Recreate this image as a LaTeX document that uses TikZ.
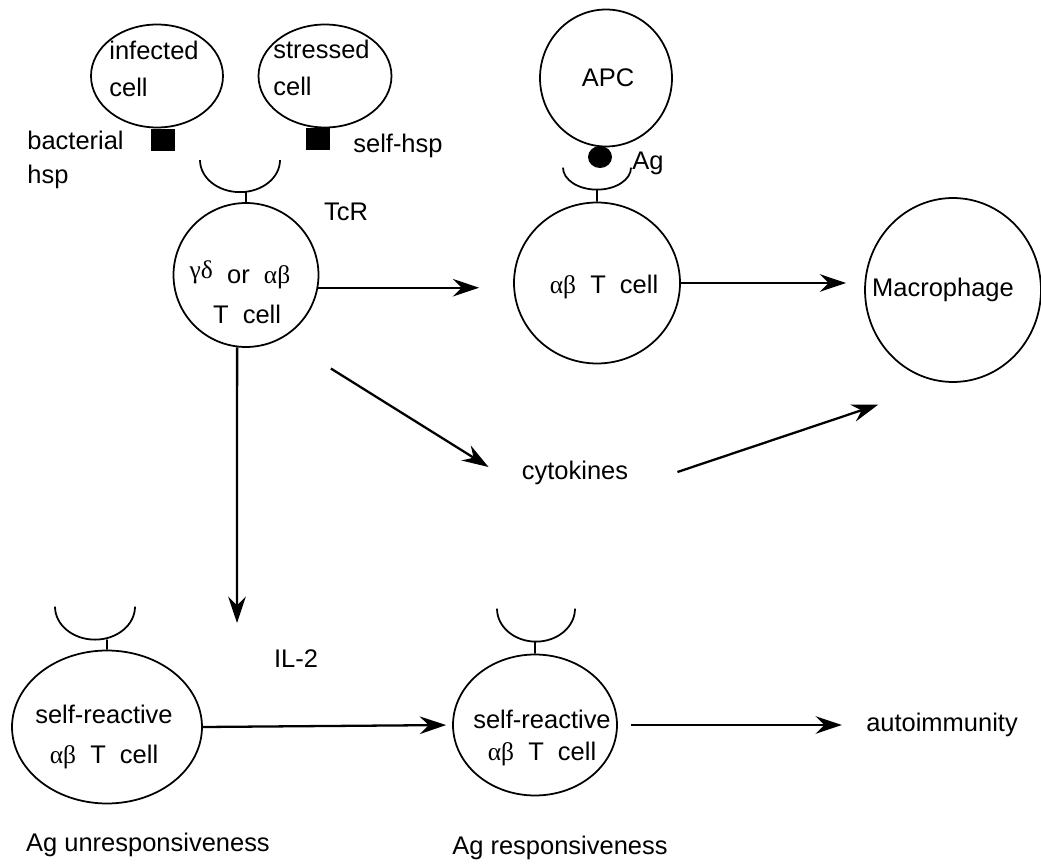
\documentclass[tikz,border=0pt]{standalone}
\usepackage{fontspec}
\setmainfont{Liberation Sans}
\newfontfamily\grk{Liberation Serif}
\usetikzlibrary{arrows.meta, shapes.geometric}

\tikzset{
  cell/.style={draw, ellipse, line width=1pt, inner sep=0pt},
  lbl/.style={font=\fontsize{14.5}{21.5}\selectfont, inner sep=2pt},
  flow/.style={-{Stealth[length=15pt, width=10pt, inset=5pt]}, line width=1.3pt},
  hsp/.style={fill, inner sep=0pt, minimum width=0.48cm, minimum height=0.44cm},
  tcr/.style={line width=1pt}
}

\begin{document}
\begin{tikzpicture}[x=0.02cm, y=0.02cm]
\useasboundingbox (0,0) rectangle (1041,-864);

\node[cell, minimum width=2.64cm, minimum height=2.06cm] (inf) at (157,-76) {};
\node[cell, minimum width=2.66cm, minimum height=2.06cm] (str) at (325,-76) {};
\node[cell, minimum width=2.64cm, minimum height=2.74cm] (apc) at (606,-78) {};
\node[cell, minimum width=2.90cm, minimum height=2.88cm] (tc) at (246,-275) {};
\node[cell, minimum width=3.32cm, minimum height=3.22cm] (ab) at (597,-283) {};
\node[cell, minimum width=3.52cm, minimum height=3.68cm] (mac) at (953,-290) {};
\node[cell, minimum width=3.80cm, minimum height=3.06cm] (sra) at (107,-727) {};
\node[cell, minimum width=3.28cm, minimum height=2.82cm] (srb) at (535,-725) {};

\node[hsp] (bh) at (163,-140) {};
\node[hsp] (sh) at (318,-139) {};
\node[fill, ellipse, inner sep=0pt, minimum width=0.48cm, minimum height=0.44cm] (ag) at (600,-157) {};

\draw[tcr] (tc.north) -- ++(0,10) ++(-46,32) arc[start angle=180, end angle=360, x radius=40, y radius=32];
\draw[tcr] (ab.north) -- ++(0,12) ++(-34,22) arc[start angle=180, end angle=360, x radius=34, y radius=22];
\draw[tcr] (sra.north) -- ++(0,10) ++(-52,33) arc[start angle=180, end angle=360, x radius=40, y radius=33];
\draw[tcr] (srb.north) -- ++(0,12) ++(-38,33) arc[start angle=180, end angle=360, x radius=39, y radius=33];

\node[lbl, anchor=west, align=left] (inft) at (105.5,-69) {infected\\ cell};
\node[lbl, anchor=west, align=left] (strt) at (269.5,-68) {stressed\\ cell};
\node[lbl, anchor=west, align=left, font=\fontsize{14.5}{19.5}\selectfont] (bact) at (23.5,-160) {bacterial\\hsp};
\node[lbl, anchor=west] (selfh) at (349.5,-146) {self-hsp};
\node[lbl] (tcrt) at (346,-212) {TcR};
\node[lbl] (apct) at (608,-78) {APC};
\node[lbl, anchor=west] (agt) at (628.5,-163) {Ag};
\node[lbl, align=center, font=\fontsize{14.5}{22.5}\selectfont] (tct) at (240,-292)
  {{\grk\raisebox{3pt}{γδ}}\ \ or\ \ {\grk αβ}\\[0pt]\ \ T\ \ cell};
\node[lbl] (abt) at (604,-287) {{\grk αβ}\ \ T\ \ cell};
\node[lbl] (mact) at (943,-290) {Macrophage};
\node[lbl] (cyt) at (575,-473) {cytokines};
\node[lbl] (il) at (296,-659) {IL-2};
\node[lbl, align=center, font=\fontsize{14.5}{22.5}\selectfont] (srat) at (104,-737)
  {self-reactive\\{\grk αβ}\ \ T\ \ cell};
\node[lbl, align=center, font=\fontsize{14.5}{18}\selectfont] (srbt) at (542,-738)
  {self-reactive\\{\grk αβ}\ \ T\ \ cell};
\node[lbl] (auto) at (942,-725) {autoimmunity};
\node[lbl] (agun) at (148,-845) {Ag unresponsiveness};
\node[lbl] (agre) at (560,-848) {Ag responsiveness};

\coordinate (ilin) at (237,-623);

\draw[flow, shorten >=0.68cm] (tc.-10) -- (tc.-10 -| ab.west);
\draw[flow, shorten >=0.36cm] (ab.east) -- (ab.east -| mac.west);
\draw[flow] ([shift={(33,-42)}]tc.south east) -- ([shift={(-29.5,6)}]cyt.west);
\draw[flow] ([shift={(45.5,1)}]cyt.east) -- ([shift={(-12,-49)}]mac.south west);
\draw[flow] (tc.263) -- (ilin);
\draw[flow, shorten >=0.12cm] (sra.east) -- (srb.west);
\draw[flow, shorten <=0.26cm, shorten >=0.41cm] (srb.east) -- (auto.west);
\end{tikzpicture}
\end{document}
